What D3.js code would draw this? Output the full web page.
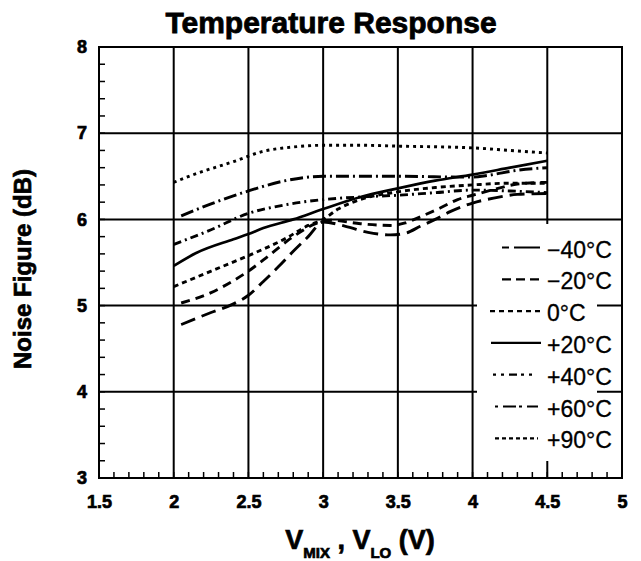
<!DOCTYPE html>
<html>
<head>
<meta charset="utf-8">
<script src="https://cdn.jsdelivr.net/npm/d3@7"></script>
<style>
  body { margin: 0; background: #fff; }
  svg { display: block; }
</style>
</head>
<body>
<script>
// temperature response chart - noise figure vs supply

var xTicks = [1.5, 2, 2.5, 3, 3.5, 4, 4.5, 5];
var yTicks = [3, 4, 5, 6, 7, 8];
var xGrid = [2, 2.5, 3, 3.5, 4, 4.5];
var yGrid = [4, 5, 6, 7];

// one pair of arrays per temperature
var vM40 = [2.05, 2.25, 2.4, 2.5, 2.6, 2.7, 2.8, 2.9, 3.0, 3.15, 3.3, 3.45, 3.55, 3.65, 3.75, 3.85, 4.0, 4.15, 4.3, 4.5];
var nfM40 = [4.78, 4.92, 5.02, 5.12, 5.28, 5.45, 5.63, 5.80, 5.97, 5.92, 5.85, 5.82, 5.84, 5.92, 6.00, 6.09, 6.19, 6.25, 6.29, 6.30];

var vM20 = [2.05, 2.25, 2.4, 2.5, 2.6, 2.8, 2.95, 3.05, 3.25, 3.45, 3.55, 3.65, 3.78, 3.9, 4.0, 4.15, 4.3, 4.5];
var nfM20 = [5.03, 5.15, 5.29, 5.40, 5.53, 5.80, 5.95, 5.99, 5.95, 5.93, 5.96, 6.03, 6.13, 6.23, 6.28, 6.35, 6.41, 6.43];

var v0 = [2.0, 2.25, 2.5, 2.75, 2.9, 3.0, 3.1, 3.25, 3.5, 3.75, 4.0, 4.25, 4.5];
var nf0 = [5.22, 5.40, 5.58, 5.78, 5.93, 6.00, 6.12, 6.23, 6.32, 6.37, 6.40, 6.42, 6.42];

var vP20 = [2.0, 2.15, 2.4, 2.5, 2.6, 2.8, 3.0, 3.25, 3.5, 3.75, 4.0, 4.25, 4.5];
var nfP20 = [5.46, 5.61, 5.77, 5.83, 5.90, 6.00, 6.12, 6.26, 6.36, 6.45, 6.52, 6.60, 6.68];

var vP40 = [2.0, 2.25, 2.5, 2.75, 3.0, 3.25, 3.5, 3.75, 4.0, 4.25, 4.5];
var nfP40 = [5.71, 5.88, 6.07, 6.17, 6.23, 6.26, 6.28, 6.31, 6.34, 6.33, 6.31];

var vP60 = [2.05, 2.25, 2.5, 2.75, 3.0, 3.5, 4.0, 4.1, 4.3, 4.5];
var nfP60 = [6.04, 6.18, 6.33, 6.45, 6.50, 6.50, 6.49, 6.51, 6.57, 6.60];

var vP90 = [2.0, 2.15, 2.4, 2.6, 2.8, 3.0, 3.25, 3.5, 4.0, 4.25, 4.5];
var nfP90 = [6.43, 6.53, 6.67, 6.79, 6.84, 6.86, 6.86, 6.85, 6.83, 6.80, 6.77];

var seriesNames = ["\u221240\u00b0C", "\u221220\u00b0C", "0\u00b0C", "+20\u00b0C", "+40\u00b0C", "+60\u00b0C", "+90\u00b0C"];
var seriesV = [vM40, vM20, v0, vP20, vP40, vP60, vP90];
var seriesNF = [nfM40, nfM20, nf0, nfP20, nfP40, nfP60, nfP90];
var dashes = ["15,7", "9,6", "5,4", null, "8,4,2,4", "13,4,2,4", "3,4"];
var legDashes = ["7,5,26,100", "9,5", "5,4", null, "3,5,3,5,8,4", "3,5,13,3", "4,3"];

var W = 641, H = 561;
var svg = d3.select("body").append("svg").attr("width", W).attr("height", H);

var x = d3.scaleLinear().domain([1.5, 5]).range([99, 622]);
var y = d3.scaleLinear().domain([3, 8]).range([478, 47]);

var font = "'Liberation Sans', Arial, sans-serif";

// grid
svg.selectAll(".vg").data(xGrid).enter().append("line")
  .attr("x1", function(d){ return x(d); }).attr("x2", function(d){ return x(d); })
  .attr("y1", y(3)).attr("y2", y(8))
  .style("stroke", "#000").style("stroke-width", 2);
svg.selectAll(".hg").data(yGrid).enter().append("line")
  .attr("x1", x(1.5)).attr("x2", x(5))
  .attr("y1", function(d){ return y(d); }).attr("y2", function(d){ return y(d); })
  .style("stroke", "#000").style("stroke-width", 2);

// minor ticks, inward
svg.selectAll(".xm").data(x.ticks(35)).enter().append("line")
  .attr("x1", function(d){ return x(d); }).attr("x2", function(d){ return x(d); })
  .attr("y1", y(3)).attr("y2", y(3) - 6)
  .style("stroke", "#000").style("stroke-width", 1.5);
svg.selectAll(".ym").data(y.ticks(25)).enter().append("line")
  .attr("x1", x(1.5)).attr("x2", x(1.5) + 6)
  .attr("y1", function(d){ return y(d); }).attr("y2", function(d){ return y(d); })
  .style("stroke", "#000").style("stroke-width", 1.5);

// the curves
var line = d3.line().curve(d3.curveMonotoneX)
  .x(function(d){ return x(d[0]); })
  .y(function(d){ return y(d[1]); });

for (var i = 0; i < seriesV.length; i++) {
  var pts = seriesV[i].map(function(v, j){ return [v, seriesNF[i][j]]; });
  svg.append("path").datum(pts)
    .attr("d", line)
    .style("fill", "none")
    .style("stroke", "#000")
    .style("stroke-width", i == 3 ? 2.7 : 2.9)
    .style("stroke-dasharray", dashes[i]);
}

// legend box knocks out the grid
svg.append("rect").attr("x", 477).attr("y", 224).attr("width", 120).attr("height", 237)
  .style("fill", "#fff");

var legX1 = [502, 502, 490, 491, 493, 495, 495];
var legX2 = [540, 540, 542, 541, 536, 538, 538];
var lg = svg.selectAll(".leg").data(seriesNames).enter().append("g");
lg.append("line")
  .attr("x1", function(d, i){ return legX1[i]; })
  .attr("x2", function(d, i){ return legX2[i]; })
  .attr("y1", function(d, i){ return 247.5 + i * 31.8; })
  .attr("y2", function(d, i){ return 247.5 + i * 31.8; })
  .style("stroke", "#000").style("stroke-width", 2.2)
  .style("stroke-dasharray", function(d, i){ return legDashes[i]; });
lg.append("text")
  .attr("x", 547)
  .attr("y", function(d, i){ return 257.5 + i * 31.8; })
  .style("font-family", font)
  .style("font-size", "23px")
  .style("stroke", "#000").style("stroke-width", 0.3)
  .text(function(d){ return d; });

// frame
svg.append("rect").attr("x", x(1.5)).attr("y", y(8))
  .attr("width", x(5) - x(1.5)).attr("height", y(3) - y(8))
  .style("fill", "none").style("stroke", "#000").style("stroke-width", 2);

// tick labels
var xa = svg.append("g").attr("transform", "translate(0," + 492 + ")")
  .call(d3.axisBottom(x).tickValues(xTicks).tickSize(0).tickFormat(function(d){ return String(d); }));
xa.select(".domain").remove();
var ya = svg.append("g").attr("transform", "translate(" + 90 + ",0)")
  .call(d3.axisLeft(y).tickValues(yTicks).tickSize(0).tickFormat(function(d){ return String(d); }));
ya.select(".domain").remove();
svg.selectAll(".tick text")
  .style("font-family", font)
  .style("font-weight", "bold")
  .style("font-size", "18px")
  .style("fill", "#000")
  .style("stroke", "#000").style("stroke-width", 0.7);

// titles
svg.append("text").attr("x", 331).attr("y", 33)
  .attr("text-anchor", "middle")
  .style("font-family", font)
  .style("font-weight", "bold").style("font-size", "30px")
  .style("stroke", "#000").style("stroke-width", 0.8)
  .text("Temperature Response");

svg.append("text")
  .attr("transform", "translate(31,269) rotate(-90)")
  .attr("text-anchor", "middle")
  .style("font-family", font)
  .style("font-weight", "bold").style("font-size", "24px")
  .style("stroke", "#000").style("stroke-width", 0.7)
  .text("Noise Figure (dB)");

var xt = svg.append("text").attr("x", 360).attr("y", 549)
  .attr("text-anchor", "middle")
  .style("font-family", font)
  .style("font-weight", "bold").style("font-size", "27px")
  .style("stroke", "#000").style("stroke-width", 0.7);
xt.append("tspan").text("V");
xt.append("tspan").attr("dy", 9).style("font-size", "15px").text("MIX");
xt.append("tspan").attr("dy", -9).text(" , V");
xt.append("tspan").attr("dy", 9).style("font-size", "15px").text("LO");
xt.append("tspan").attr("dy", -9).text(" (V)");
</script>
</body>
</html>
